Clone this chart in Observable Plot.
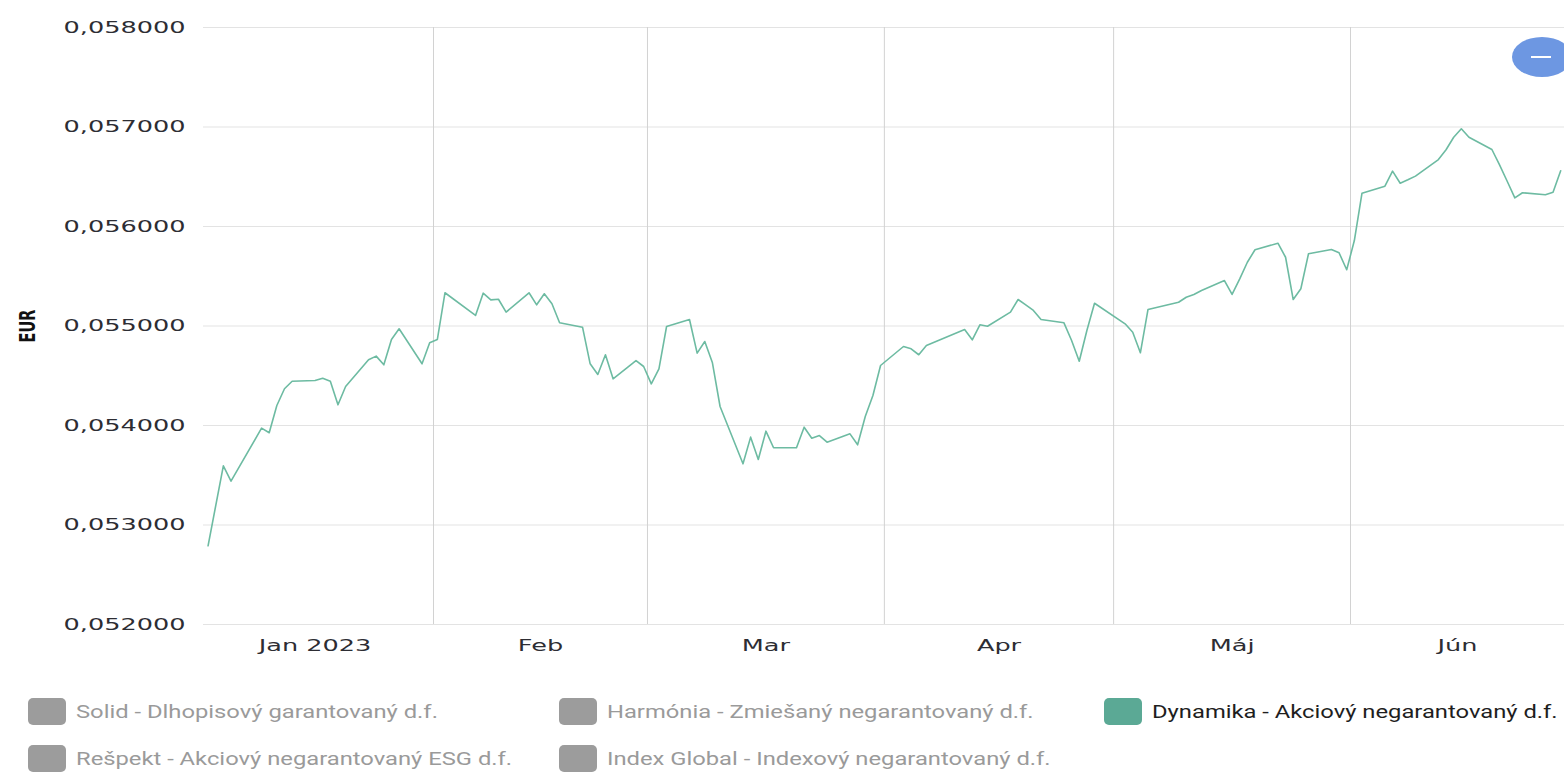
<!DOCTYPE html>
<html>
<head>
<meta charset="utf-8">
<script src="https://cdn.jsdelivr.net/npm/d3@7"></script>
<script src="https://cdn.jsdelivr.net/npm/@observablehq/plot@0.6"></script>
<style>
  html, body { margin: 0; padding: 0; background: #fff; }
  body { width: 1564px; height: 773px; overflow: hidden; position: relative; font-family: "DejaVu Sans", sans-serif; }
  #chart { position: absolute; left: 0; top: 0; }
  .item { position: absolute; display: flex; align-items: center; height: 27px; white-space: nowrap; }
  .sw { width: 38px; height: 27px; border-radius: 5px; background: #9c9c9c; flex: none; }
  .lbl { font-family: Roboto, sans-serif; font-size: 18px; color: #9a9a9a; margin-left: 10px; transform-origin: left center; transform: scaleX(1.32); }
  .on .sw { background: #5ba995; }
  .on .lbl { color: #1e1e1e; }
  #btn { position: absolute; left: 1512px; top: 37px; width: 60px; height: 40px; border-radius: 50%; background: #6d97e2; }
  #btn span { position: absolute; left: 19px; top: 19px; width: 20px; height: 2px; background: #fff; }
</style>
</head>
<body>
<div id="chart"></div>
<div id="legend"></div>
<div id="btn"><span></span></div>
<script>
// ---- data ----
const seriesName = "Dynamika - Akciový negarantovaný d.f.";
const dates = [
  "2023-01-02","2023-01-04","2023-01-05","2023-01-09","2023-01-10","2023-01-11","2023-01-12","2023-01-13",
  "2023-01-16","2023-01-17","2023-01-18","2023-01-19","2023-01-20","2023-01-23","2023-01-24","2023-01-25",
  "2023-01-26","2023-01-27","2023-01-30","2023-01-31","2023-02-01","2023-02-02","2023-02-06","2023-02-07",
  "2023-02-08","2023-02-09","2023-02-10","2023-02-13","2023-02-14","2023-02-15","2023-02-16","2023-02-17",
  "2023-02-20","2023-02-21","2023-02-22","2023-02-23","2023-02-24","2023-02-27","2023-02-28","2023-03-01",
  "2023-03-02","2023-03-03","2023-03-06","2023-03-07","2023-03-08","2023-03-09","2023-03-10","2023-03-13",
  "2023-03-14","2023-03-15","2023-03-16","2023-03-17","2023-03-20","2023-03-21","2023-03-22","2023-03-23",
  "2023-03-24","2023-03-27","2023-03-28","2023-03-29","2023-03-30","2023-03-31","2023-04-03","2023-04-04",
  "2023-04-05","2023-04-06","2023-04-11","2023-04-12","2023-04-13","2023-04-14","2023-04-17","2023-04-18",
  "2023-04-19","2023-04-20","2023-04-21","2023-04-24","2023-04-25","2023-04-26","2023-04-27","2023-04-28",
  "2023-05-02","2023-05-03","2023-05-04","2023-05-05","2023-05-09","2023-05-10","2023-05-11","2023-05-12",
  "2023-05-15","2023-05-16","2023-05-17","2023-05-18","2023-05-19","2023-05-22","2023-05-23","2023-05-24",
  "2023-05-25","2023-05-26","2023-05-29","2023-05-30","2023-05-31","2023-06-01","2023-06-02","2023-06-05",
  "2023-06-06","2023-06-07","2023-06-08","2023-06-09","2023-06-12","2023-06-13","2023-06-14","2023-06-15",
  "2023-06-16","2023-06-19","2023-06-20","2023-06-21","2023-06-22","2023-06-23","2023-06-26","2023-06-27",
  "2023-06-28"
];
const values = [
  0.052791,0.053595,0.053440,0.053973,0.053927,0.054201,0.054369,0.054445,
  0.054452,0.054475,0.054445,0.054208,0.054392,0.054660,0.054697,0.054610,
  0.054864,0.054972,0.054620,0.054831,0.054864,0.055334,0.055106,0.055330,
  0.055263,0.055269,0.055139,0.055334,0.055213,0.055324,0.055223,0.055032,
  0.054988,0.054620,0.054513,0.054711,0.054469,0.054653,0.054593,0.054419,
  0.054570,0.054995,0.055065,0.054727,0.054844,0.054630,0.054191,0.053615,
  0.053883,0.053658,0.053943,0.053776,0.053776,0.053983,0.053872,0.053899,
  0.053832,0.053916,0.053806,0.054090,0.054302,0.054603,0.054794,0.054771,
  0.054711,0.054804,0.054965,0.054861,0.055012,0.054998,0.055139,0.055266,
  0.055213,0.055156,0.055065,0.055032,0.054854,0.054646,0.054955,0.055229,
  0.055022,0.054938,0.054731,0.055166,0.055239,0.055289,0.055317,0.055357,
  0.055457,0.055317,0.055474,0.055641,0.055766,0.055832,0.055691,0.055266,
  0.055374,0.055726,0.055769,0.055736,0.055565,0.055859,0.056335,0.056405,
  0.056556,0.056435,0.056469,0.056506,0.056673,0.056771,0.056897,0.056982,
  0.056897,0.056774,0.056620,0.056455,0.056288,0.056339,0.056319,0.056345,
  0.056560
];
const yTicks = [0.052, 0.053, 0.054, 0.055, 0.056, 0.057, 0.058];
const monthStarts = ["2023-01-01","2023-02-01","2023-03-01","2023-04-01","2023-05-01","2023-06-01","2023-07-01"];
const monthLabels = ["Jan 2023","Feb","Mar","Apr","Máj","Jún"];
const legendItems = [
  "Solid - Dlhopisový garantovaný d.f.",
  "Harmónia - Zmiešaný negarantovaný d.f.",
  "Dynamika - Akciový negarantovaný d.f.",
  "Rešpekt - Akciový negarantovaný ESG d.f.",
  "Index Global - Indexový negarantovaný d.f."
];

// ---- build ----
const xDomain = [new Date(Date.UTC(2023, 0, 1, 21, 40)), new Date(Date.UTC(2023, 5, 29))];
const data = dates.map((d, i) => ({date: new Date(d + "T12:00:00Z"), value: values[i]}));
const starts = monthStarts.map(d => new Date(d + "T00:00:00Z"));
// label sits at the middle of each month (of its part that is visible for the last month)
const mids = monthLabels.map((_, i) => {
  const a = +starts[i], b = Math.min(+starts[i + 1], +xDomain[1]);
  return new Date((a + b) / 2);
});
const labelOf = new Map(mids.map((d, i) => [+d, monthLabels[i]]));
const fmtY = d => d3.format(".6f")(d).replace(".", ",");

const plot = Plot.plot({
  width: 1564,
  height: 665,
  marginLeft: 203,
  marginRight: 0,
  marginTop: 27,
  marginBottom: 41,
  style: {fontFamily: "DejaVu Sans, sans-serif", fontSize: "16px", color: "#333", background: "#fff", overflow: "visible"},
  x: {type: "utc", domain: xDomain},
  y: {domain: [0.052, 0.058]},
  marks: [
    Plot.gridY(yTicks, {stroke: "#e3e3e3", strokeOpacity: 1, strokeWidth: 1}),
    Plot.gridX(starts.slice(1, 6), {stroke: "#d2d2d2", strokeOpacity: 1, strokeWidth: 1}),
    Plot.axisY(yTicks, {tickSize: 0, tickPadding: 18, tickFormat: fmtY, fontSize: 16.5, fill: "#2d2d33",
      label: "EUR", labelAnchor: "center", labelArrow: "none", labelOffset: 183}),
    Plot.axisX(mids, {tickSize: 0, tickPadding: 15, tickFormat: d => labelOf.get(+d), fontSize: 16.5, fill: "#2d2d33", label: null}),
    Plot.lineY(data, {x: "date", y: "value", stroke: "#6dbba2", strokeWidth: 1.6, clip: true})
  ]
});
document.getElementById("chart").appendChild(plot);

// horizontal stretch of tick labels to match the reference's wide lettering
function stretch(sel, sx) {
  plot.querySelectorAll(sel).forEach(t => {
    const tr = t.getAttribute("transform");
    if (tr && tr.includes("translate")) {
      t.setAttribute("transform", `${tr} scale(${sx},1)`);
    } else {
      const x = parseFloat(t.getAttribute("x")) || 0;
      t.setAttribute("transform", `translate(${x},0) scale(${sx},1) translate(${-x},0)`);
    }
  });
}
stretch('[aria-label="y-axis tick label"] text', 1.55);
stretch('[aria-label="x-axis tick label"] text', 1.55);
plot.querySelectorAll('[aria-label="y-axis label"] text').forEach(t => {
  t.setAttribute("font-weight", "bold");
  t.setAttribute("font-size", "14.5");
  t.setAttribute("fill", "#111");
  const tr = t.getAttribute("transform");
  if (tr && tr.includes("translate")) t.setAttribute("transform", tr + " scale(1,1.45)");
});

// legend
const pos = [[28, 698], [559, 698], [1104, 698], [28, 745], [559, 745]];
const leg = document.getElementById("legend");
legendItems.forEach((name, i) => {
  const el = document.createElement("div");
  el.className = "item" + (name === seriesName ? " on" : "");
  el.style.left = pos[i][0] + "px";
  el.style.top = pos[i][1] + "px";
  el.innerHTML = `<div class="sw"></div><div class="lbl"></div>`;
  el.querySelector(".lbl").textContent = name;
  leg.appendChild(el);
});
</script>
</body>
</html>
